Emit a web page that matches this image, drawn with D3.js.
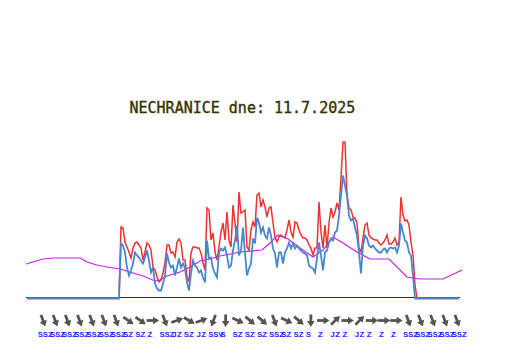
<!DOCTYPE html>
<html>
<head>
<meta charset="utf-8">
<script src="https://cdn.jsdelivr.net/npm/d3@7"></script>
<style>
  html, body { margin: 0; background: #fff; }
  svg { display: block; }
</style>
</head>
<body>
<svg width="532" height="360"></svg>
<script>
const title = "NECHRANICE dne: 11.7.2025";

// 10 minute samples, hour = index / 6
const redValues = [
  0,0,0,0,0,0,0,0,0,0,0,0,0,0,0,0,0,0,0,0,0,0,0,0,0,0,0,0,0,0,0,0,0,0,0,0,0,0,0,0,0,0,0,0,0,0,0,
  71,70,56,51,46,40,50,55,56,53,50,38,46,55,53,48,31,28,21,16,18,25,35,53,53,45,46,41,56,59,55,38,38,21,16,45,51,51,50,50,45,35,28,
  90,88,58,65,46,38,51,66,75,58,86,58,51,93,75,56,106,85,86,88,51,48,68,76,71,103,105,91,98,91,81,90,91,75,61,56,61,63,61,60,68,78,66,61,76,75,68,63,60,60,58,53,50,43,50,50,
  96,66,50,73,50,75,90,81,86,95,88,120,156,156,103,90,88,81,80,75,50,46,60,73,75,63,60,59,58,58,55,53,55,58,63,54,54,56,60,53,56,101,83,77,78,73,56,43,13,
  0,0,0,0,0,0,0,0,0,0,0,0,0,0,0,0,0,0,0,0,0,0
];
const blueValues = [
  0,0,0,0,0,0,0,0,0,0,0,0,0,0,0,0,0,0,0,0,0,0,0,0,0,0,0,0,0,0,0,0,0,0,0,0,0,0,0,0,0,0,0,0,0,0,0,
  55,53,46,31,23,28,35,46,43,41,38,35,41,48,38,26,31,15,10,8,8,15,23,45,36,31,33,23,31,40,31,35,30,16,8,25,38,33,31,26,28,21,16,
  58,40,41,30,25,21,46,50,48,51,43,31,33,48,58,73,43,48,71,45,23,30,35,60,55,81,76,66,71,63,60,71,63,50,45,31,46,46,35,46,50,56,50,55,50,53,50,48,46,45,43,33,31,30,26,40,
  56,43,28,46,48,56,60,58,66,68,83,103,123,113,103,83,78,80,71,63,46,25,53,63,60,53,51,53,50,48,46,46,49,50,46,50,51,50,51,46,53,75,66,58,56,46,43,23,0,
  0,0,0,0,0,0,0,0,0,0,0,0,0,0,0,0,0,0,0,0,0,0
];

// the magenta line only has a few knots
const magentaHours = [-0.08,0.5,1.33,2.17,4.42,5,5.83,6.67,7.75,8.83,9.67,10.67,11.08,11.67,12.75,13.58,14.42,15.25,16.08,17.75,19.58,20.25,20.92,21.75,22.75,23.83,24.67,25.5,26.33,27.5,28.58,30.17,31.67,32.75,34.67,36.25];
const magentaValues = [34,36,39,40,40,36,33,31,29,25,22,17,18,22,26,31,37,39,42,46,48,55,63,59,50,41,48,61,55,46,39,39,21,19,19,28];

const windDeg = [160,160,160,160,160,160,160,125,125,90,160,70,120,70,200,180,115,130,130,160,115,130,180,90,45,90,45,90,90,90,160,160,160,160,160];
const windLabels = ["SSZ","SSZ","SSZ","SSZ","SSZ","SSZ","SSZ","SZ","SZ","Z","SSZ","JZ","SZ","JZ","SSV","S","SZ","SZ","SZ","SSZ","SZ","SZ","S","Z","JZ","Z","JZ","Z","Z","Z","SSZ","SSZ","SSZ","SSZ","SSZ"];

const svg = d3.select("svg");

const x = d3.scaleLinear().domain([0, 36]).range([27, 459]);
const y = d3.scaleLinear().domain([0, 160]).range([298, 138]);

svg.append("text")
  .attr("x", 129.5)
  .attr("y", 113)
  .attr("fill", "#333300")
  .attr("stroke", "#333300")
  .attr("stroke-width", 0.35)
  .style("font", "15px 'DejaVu Sans Mono'")
  .text(title);

const sampleLine = d3.line()
  .x((d, i) => x(i / 6))
  .y(d => y(d));

// baseline under the curves
svg.append("line")
  .attr("x1", 26).attr("x2", 460)
  .attr("y1", 297.5).attr("y2", 297.5)
  .attr("stroke", "#333300");

svg.append("path")
  .datum(redValues)
  .attr("d", sampleLine)
  .attr("fill", "none")
  .attr("stroke", "#f23030")
  .attr("stroke-width", 1.5);

svg.append("path")
  .datum(magentaValues)
  .attr("d", d3.line()
    .x((d, i) => x(magentaHours[i]))
    .y(d => y(d)))
  .attr("fill", "none")
  .attr("stroke", "#c81ee8")
  .attr("stroke-width", 1.2);

svg.append("path")
  .datum(blueValues)
  .attr("d", sampleLine)
  .attr("fill", "none")
  .attr("stroke", "#4a86d0")
  .attr("stroke-width", 1.8)
  .attr("transform", "translate(0,0.5)");

// wind arrows and direction labels
const windX = d3.scalePoint().domain(d3.range(windDeg.length)).range([43, 457]);

const arrows = svg.append("g")
  .selectAll("g")
  .data(windDeg).enter()
  .append("g")
  .attr("transform", (d, i) => `translate(${windX(i)},320.5) rotate(${d})`);

arrows.append("line")
  .attr("y1", 6).attr("y2", -3)
  .attr("stroke", "#555550")
  .attr("stroke-width", 2.8);

arrows.append("path")
  .attr("d", "M0,-6.5L3.8,-0.5L-3.8,-0.5Z")
  .attr("fill", "#555550");

svg.append("g")
  .selectAll("text")
  .data(windLabels).enter()
  .append("text")
  .attr("x", (d, i) => windX(i) - 5)
  .attr("y", 337)
  .attr("fill", "#0000ff")
  .attr("stroke", "#0000ff")
  .attr("stroke-width", 0.2)
  .style("font", "8px 'Liberation Mono'")
  .style("letter-spacing", "0.2px")
  .text(d => d);
</script>
</body>
</html>
